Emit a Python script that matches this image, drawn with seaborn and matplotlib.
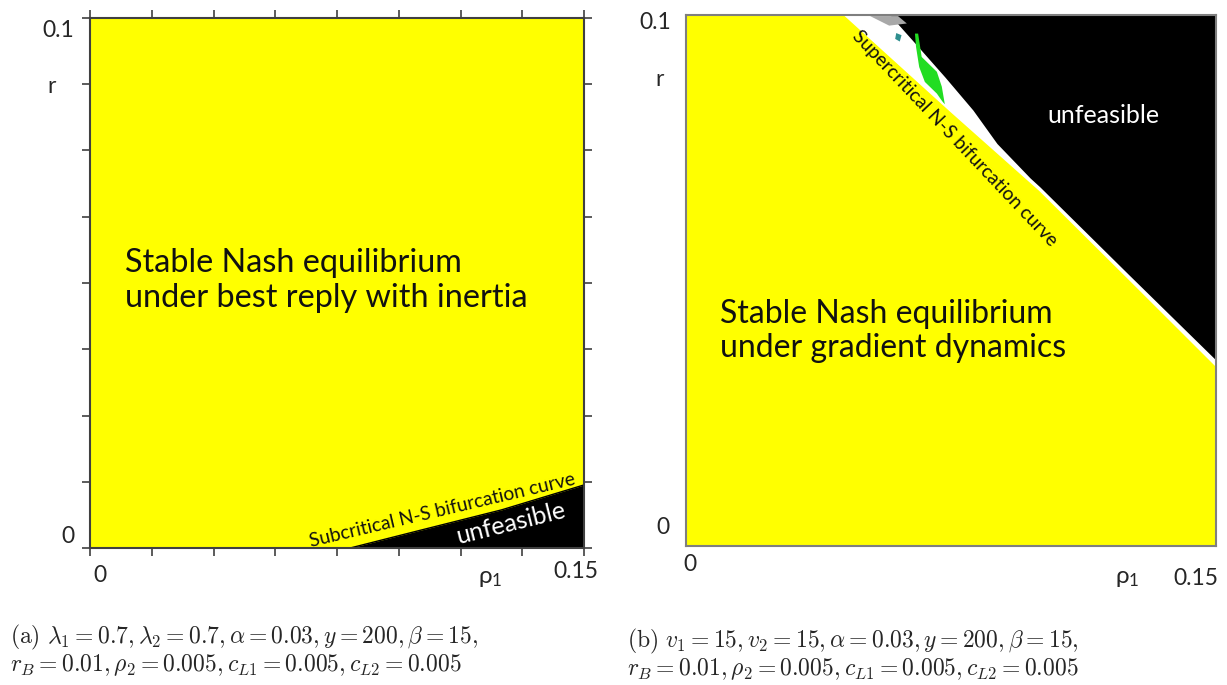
import numpy as np
import pandas as pd
import matplotlib
matplotlib.use("Agg")
import matplotlib.pyplot as plt
import seaborn as sns

# ---------------- data ----------------
# panel (a): unfeasible region boundary (rho1, r)
a_rho = [0.079, 0.10, 0.125, 0.15]
a_r = [0.0, 0.0033, 0.0072, 0.0119]

# panel (b): yellow (stable) edge and black (unfeasible) edge
b_yel_rho = [0.0450, 0.075, 0.1002, 0.125, 0.15]
b_yel_r = [0.1, 0.0819, 0.0670, 0.0506, 0.034]
b_blk_rho = [0.0577, 0.0648, 0.0733, 0.0812, 0.0880, 0.0974, 0.1002, 0.125, 0.15]
b_blk_r = [0.1, 0.0947, 0.0883, 0.0821, 0.0758, 0.0693, 0.0676, 0.0513, 0.0350]

# green patch inside the white strip of panel (b)
g_rho = [0.0648, 0.0657, 0.0667, 0.0710, 0.0724, 0.0733, 0.0710, 0.0676, 0.0660, 0.0651]
g_r = [0.0965, 0.0965, 0.0921, 0.0893, 0.0865, 0.0830, 0.0852, 0.0874, 0.0902, 0.0940]
# light gray smudge and teal spot near the top of the strip
s_rho = [0.0521, 0.0600, 0.0625, 0.0575, 0.0545]
s_r = [0.0998, 0.0998, 0.0984, 0.0980, 0.0990]
t_rho = [0.0595, 0.0610, 0.0605, 0.0592]
t_r = [0.0966, 0.0962, 0.0950, 0.0955]

x_lim = (0.0, 0.15)
y_lim = (0.0, 0.1)
n_ticks = 9

caption_a = [r"$\mathrm{(a)}\ \lambda_1 = 0.7, \lambda_2 = 0.7, \alpha = 0.03, y = 200, \beta = 15,$",
             r"$r_B = 0.01, \rho_2 = 0.005, c_{L1} = 0.005, c_{L2} = 0.005$"]
caption_b = [r"$\mathrm{(b)}\ v_1 = 15, v_2 = 15, \alpha = 0.03, y = 200, \beta = 15,$",
             r"$r_B = 0.01, \rho_2 = 0.005, c_{L1} = 0.005, c_{L2} = 0.005$"]

# ---------------- styling ----------------
sns.set_theme(style="white")
plt.rcParams["font.family"] = ["Lato", "DejaVu Sans"]
plt.rcParams["mathtext.fontset"] = "cm"

YEL = "#ffff00"
W, H = 1227, 685
fig = plt.figure(figsize=(W / 100, H / 100), dpi=100)
fig.patch.set_facecolor("white")

fs_tick = 16.5
fs_main = 23.3
fs_unf = 18
fs_curve = 13.8
fs_cap = 17

# ---------------- panel (a) ----------------
axa = fig.add_axes([90 / W, (H - 548) / H, 494 / W, 530 / H])
axa.set_facecolor(YEL)
dfa = pd.DataFrame({"rho": a_rho, "r": a_r})
axa.fill_between(dfa["rho"], 0, dfa["r"], color="black", lw=0)
sns.lineplot(data=dfa, x="rho", y="r", ax=axa, color="black", lw=1)
axa.set_xlim(*x_lim)
axa.set_ylim(*y_lim)
axa.set_xticks(np.linspace(*x_lim, n_ticks))
axa.set_yticks(np.linspace(*y_lim, n_ticks))
axa.set_xticklabels([])
axa.set_yticklabels([])
axa.set_xlabel("")
axa.set_ylabel("")
axa.tick_params(direction="out", length=6, width=1.2, color="#404040",
                top=True, right=True, bottom=True, left=True)
for sp in axa.spines.values():
    sp.set_color("#404040")
    sp.set_linewidth(1.5)

axa.text(0.0709, 0.504, "Stable Nash equilibrium\nunder best reply with inertia",
         transform=axa.transAxes, fontsize=fs_main, va="center", ha="left",
         linespacing=1.2, color="#111111")
axa.text(0.713, 0.072, "Subcritical N-S bifurcation curve", transform=axa.transAxes,
         fontsize=fs_curve, rotation=13.3, ha="center", va="center", color="#111111")
axa.text(0.852, 0.047, "unfeasible", transform=axa.transAxes,
         fontsize=fs_unf, rotation=14, ha="center", va="center", color="white")

axa.text(-0.065, 0.977, "0.1", transform=axa.transAxes, fontsize=fs_tick, ha="center", va="center")
axa.text(-0.077, 0.87, "r", transform=axa.transAxes, fontsize=fs_tick, ha="center", va="center")
axa.text(-0.045, 0.021, "0", transform=axa.transAxes, fontsize=fs_tick, ha="center", va="center")
axa.text(0.02, -0.051, "0", transform=axa.transAxes, fontsize=fs_tick, ha="center", va="center")
axa.text(0.81, -0.057, r"$\mathregular{\rho_1}$", transform=axa.transAxes, fontsize=fs_tick + 1,
         ha="center", va="center")
axa.text(0.984, -0.045, "0.15", transform=axa.transAxes, fontsize=fs_tick, ha="center", va="center")

# ---------------- panel (b) ----------------
axb = fig.add_axes([686 / W, (H - 546) / H, 530 / W, 531 / H])
axb.set_facecolor(YEL)
dfy = pd.DataFrame({"rho": b_yel_rho, "r": b_yel_r})
dfb = pd.DataFrame({"rho": b_blk_rho, "r": b_blk_r})
axb.fill_between(dfy["rho"], dfy["r"], y_lim[1], color="white", lw=0)
axb.fill_between(dfb["rho"], dfb["r"], y_lim[1], color="black", lw=0)
axb.fill(s_rho, s_r, color="#a8a8a8", lw=0)
axb.fill(t_rho, t_r, color="#2f8f8f", lw=0)
axb.fill(g_rho, g_r, color="#22dd22", lw=0)
sns.lineplot(data=dfy, x="rho", y="r", ax=axb, color="white", lw=1.5)
axb.set_xlim(*x_lim)
axb.set_ylim(*y_lim)
axb.set_xticks([])
axb.set_yticks([])
axb.set_xlabel("")
axb.set_ylabel("")
for sp in axb.spines.values():
    sp.set_color("#7f7f7f")
    sp.set_linewidth(1.5)

axb.text(0.064, 0.405, "Stable Nash equilibrium\nunder gradient dynamics",
         transform=axb.transAxes, fontsize=fs_main - 0.3, va="center", ha="left",
         linespacing=1.2, color="#111111")
axb.text((955 - 686) / 530, (545 - 137) / 531, "Supercritical N-S bifurcation curve",
         transform=axb.transAxes, fontsize=fs_curve, rotation=-46.6,
         ha="center", va="center", color="#111111")
axb.text(0.787, 0.81, "unfeasible", transform=axb.transAxes,
         fontsize=fs_unf, ha="center", va="center", color="white")

axb.text(-0.058, 0.985, "0.1", transform=axb.transAxes, fontsize=fs_tick, ha="center", va="center")
axb.text(-0.049, 0.879, "r", transform=axb.transAxes, fontsize=fs_tick, ha="center", va="center")
axb.text(-0.043, 0.034, "0", transform=axb.transAxes, fontsize=fs_tick, ha="center", va="center")
axb.text(0.008, -0.034, "0", transform=axb.transAxes, fontsize=fs_tick, ha="center", va="center")
axb.text(0.832, -0.062, r"$\mathregular{\rho_1}$", transform=axb.transAxes, fontsize=fs_tick + 1,
         ha="center", va="center")
axb.text(0.962, -0.062, "0.15", transform=axb.transAxes, fontsize=fs_tick, ha="center", va="center")

# ---------------- captions ----------------
fig.text(10 / W, 1 - 643 / H, caption_a[0], fontsize=fs_cap, ha="left", va="baseline")
fig.text(10 / W, 1 - 671 / H, caption_a[1], fontsize=fs_cap, ha="left", va="baseline")
fig.text(627 / W, 1 - 647 / H, caption_b[0], fontsize=fs_cap, ha="left", va="baseline")
fig.text(627 / W, 1 - 675 / H, caption_b[1], fontsize=fs_cap, ha="left", va="baseline")

fig.savefig("out.png", dpi=100, facecolor="white")
